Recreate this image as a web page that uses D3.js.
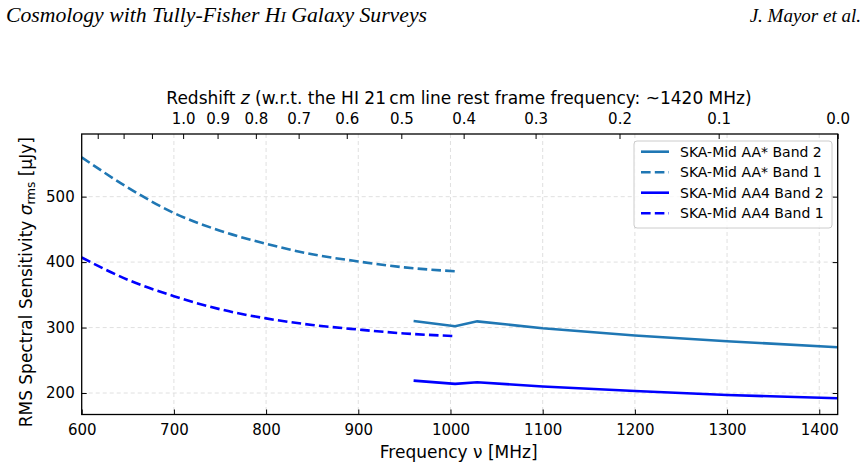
<!DOCTYPE html>
<html>
<head>
  <meta charset="utf-8">
  <title>RMS sensitivity</title>
  <script src="https://cdnjs.cloudflare.com/ajax/libs/d3/7.8.5/d3.min.js"></script>
  <style>
    body { margin: 0; background: #fff; }
    text { font-family: "DejaVu Sans", sans-serif; fill: #000; }
  </style>
</head>
<body>
<div id="vis"></div>
<script>
var W = 867, H = 468;
var pLeft = 81.7, pRight = 837.7, pTop = 134, pBottom = 414.5;

// data
var freqBand1 = [600, 650, 700, 750, 800, 850, 900, 950, 1005];
var aaStarBand1 = [560, 514, 475, 448, 428, 412, 401, 392, 386];
var aa4Band1 = [407, 373, 348, 328, 314, 304, 297, 291, 287];

var freqBand2 = [960, 1005, 1029, 1100, 1200, 1300, 1420];
var aaStarBand2 = [310, 302, 309.5, 299, 288, 279, 270];
var aa4Band2 = [219, 214, 216.5, 210, 203, 197, 192];

var xTicks = [600, 700, 800, 900, 1000, 1100, 1200, 1300, 1400];
var yTicks = [200, 300, 400, 500];
var zTicks = [1.3, 1.2, 1.1, 1.0, 0.9, 0.8, 0.7, 0.6, 0.5, 0.4, 0.3, 0.2, 0.1, 0.0];
var restFreq = 1420;

var series = [
  {name: "SKA-Mid AA* Band 2", x: freqBand2, y: aaStarBand2, color: "#1f77b4", dash: null},
  {name: "SKA-Mid AA* Band 1", x: freqBand1, y: aaStarBand1, color: "#1f77b4", dash: "9.6,4.2"},
  {name: "SKA-Mid AA4 Band 2", x: freqBand2, y: aa4Band2, color: "#0000ff", dash: null},
  {name: "SKA-Mid AA4 Band 1", x: freqBand1, y: aa4Band1, color: "#0000ff", dash: "9.6,4.2"}
];

var svg = d3.select("#vis").append("svg")
  .attr("width", W).attr("height", H);

var x = d3.scaleLinear().domain([600, 1420]).range([pLeft, pRight]);
var y = d3.scaleLinear().domain([167.2, 595.7]).range([pBottom, pTop]);

// header line
var hdr = svg.append("text").attr("x", 6).attr("y", 22)
  .attr("textLength", 421).attr("lengthAdjust", "spacingAndGlyphs")
  .style("font-family", "'Liberation Serif', serif").style("font-style", "italic")
  .style("font-size", "20px");
hdr.append("tspan").text("Cosmology with Tully-Fisher H");
hdr.append("tspan").style("font-size", "15px").text("I");
hdr.append("tspan").text(" Galaxy Surveys");
svg.append("text").attr("x", 861).attr("y", 22).attr("text-anchor", "end")
  .style("font-family", "'Liberation Serif', serif").style("font-style", "italic")
  .style("font-size", "19px").text("J. Mayor et al.");

// grid
var grid = svg.append("g").attr("stroke", "#dcdcdc").attr("stroke-width", 0.9)
  .attr("stroke-dasharray", "4,3");
grid.selectAll("line.gx").data(xTicks.filter(function(d){ return d > 600; })).enter()
  .append("line")
  .attr("x1", function(d){ return x(d); }).attr("x2", function(d){ return x(d); })
  .attr("y1", pTop).attr("y2", pBottom);
grid.selectAll("line.gy").data(yTicks).enter().append("line")
  .attr("x1", pLeft).attr("x2", pRight)
  .attr("y1", function(d){ return y(d); }).attr("y2", function(d){ return y(d); });

// curves
var lineGen = function(s) {
  return d3.line()
    .x(function(d, i){ return x(s.x[i]); })
    .y(function(d){ return y(d); })
    .curve(s.dash ? d3.curveMonotoneX : d3.curveLinear)(s.y);
};
svg.selectAll("path.series").data(series).enter().append("path")
  .attr("class", "series")
  .attr("d", lineGen)
  .attr("fill", "none")
  .attr("stroke", function(d){ return d.color; })
  .attr("stroke-width", 2.6)
  .attr("stroke-dasharray", function(d){ return d.dash; });

// axes (ticks pointing in)
svg.append("g").attr("transform", "translate(0," + pBottom + ")")
  .call(d3.axisBottom(x).tickValues(xTicks).tickFormat(d3.format("d"))
    .tickSizeInner(-5).tickSizeOuter(0).tickPadding(10));
svg.append("g").attr("transform", "translate(" + pLeft + ",0)")
  .call(d3.axisLeft(y).tickValues(yTicks).tickFormat(d3.format("d"))
    .tickSizeInner(-5).tickSizeOuter(0).tickPadding(7));
svg.append("g").attr("transform", "translate(" + pRight + ",0)")
  .call(d3.axisRight(y).tickValues(yTicks).tickSizeInner(-5).tickSizeOuter(0).tickFormat(""));

var zAxis = d3.axisTop(x)
  .tickValues(zTicks.map(function(z){ return restFreq / (1 + z); }))
  .tickFormat(function(d, i){ return zTicks[i] <= 1.0 ? zTicks[i].toFixed(1) : ""; })
  .tickSizeInner(-5).tickSizeOuter(0).tickPadding(10);
svg.append("g").attr("transform", "translate(0," + pTop + ")").call(zAxis);

svg.selectAll(".domain").remove();
svg.selectAll(".tick line").attr("stroke", "#000").attr("stroke-width", 1);
svg.selectAll(".tick text").style("font-size", "15px").style("font-family", "'DejaVu Sans', sans-serif");

// frame
svg.append("rect").attr("x", pLeft).attr("y", pTop)
  .attr("width", pRight - pLeft).attr("height", pBottom - pTop)
  .attr("fill", "none").attr("stroke", "#000").attr("stroke-width", 1.3);

// axis labels
svg.append("text").attr("x", (pLeft + pRight) / 2 - 1).attr("y", 458)
  .attr("text-anchor", "middle").style("font-size", "17px")
  .text("Frequency \u03bd [MHz]");

var yl = svg.append("text").attr("transform", "translate(32," + ((pTop + pBottom) / 2 + 8) + ") rotate(-90)")
  .attr("text-anchor", "middle").style("font-size", "17px");
yl.append("tspan").text("RMS Spectral Sensitivity ");
yl.append("tspan").style("font-style", "italic").text("\u03c3");
yl.append("tspan").attr("dy", 3).style("font-size", "12px").text("rms");
yl.append("tspan").attr("dy", -3).text(" [\u03bcJy]");

var zl = svg.append("text").attr("x", 459).attr("y", 104)
  .attr("text-anchor", "middle").style("font-size", "17px");
zl.append("tspan").text("Redshift ");
zl.append("tspan").style("font-style", "italic").text("z");
zl.append("tspan").text(" (w.r.t. the HI 21\u2009cm line rest frame frequency: ~1420 MHz)");

// legend
var lg = svg.append("g");
lg.append("rect").attr("x", 634).attr("y", 141).attr("width", 198).attr("height", 87)
  .attr("rx", 3).attr("fill", "#fff").attr("fill-opacity", 0.8)
  .attr("stroke", "#cccccc").attr("stroke-width", 1);
var items = lg.selectAll("g.item").data(series).enter().append("g")
  .attr("transform", function(d, i){ return "translate(0," + (151.7 + i * 20.5) + ")"; });
items.append("line").attr("x1", 641).attr("x2", 669).attr("y1", 0).attr("y2", 0)
  .attr("stroke", function(d){ return d.color; }).attr("stroke-width", 2.6)
  .attr("stroke-dasharray", function(d){ return d.dash; });
items.append("text").attr("x", 680).attr("y", 5).style("font-size", "14px")
  .text(function(d){ return d.name; });
</script>
</body>
</html>
